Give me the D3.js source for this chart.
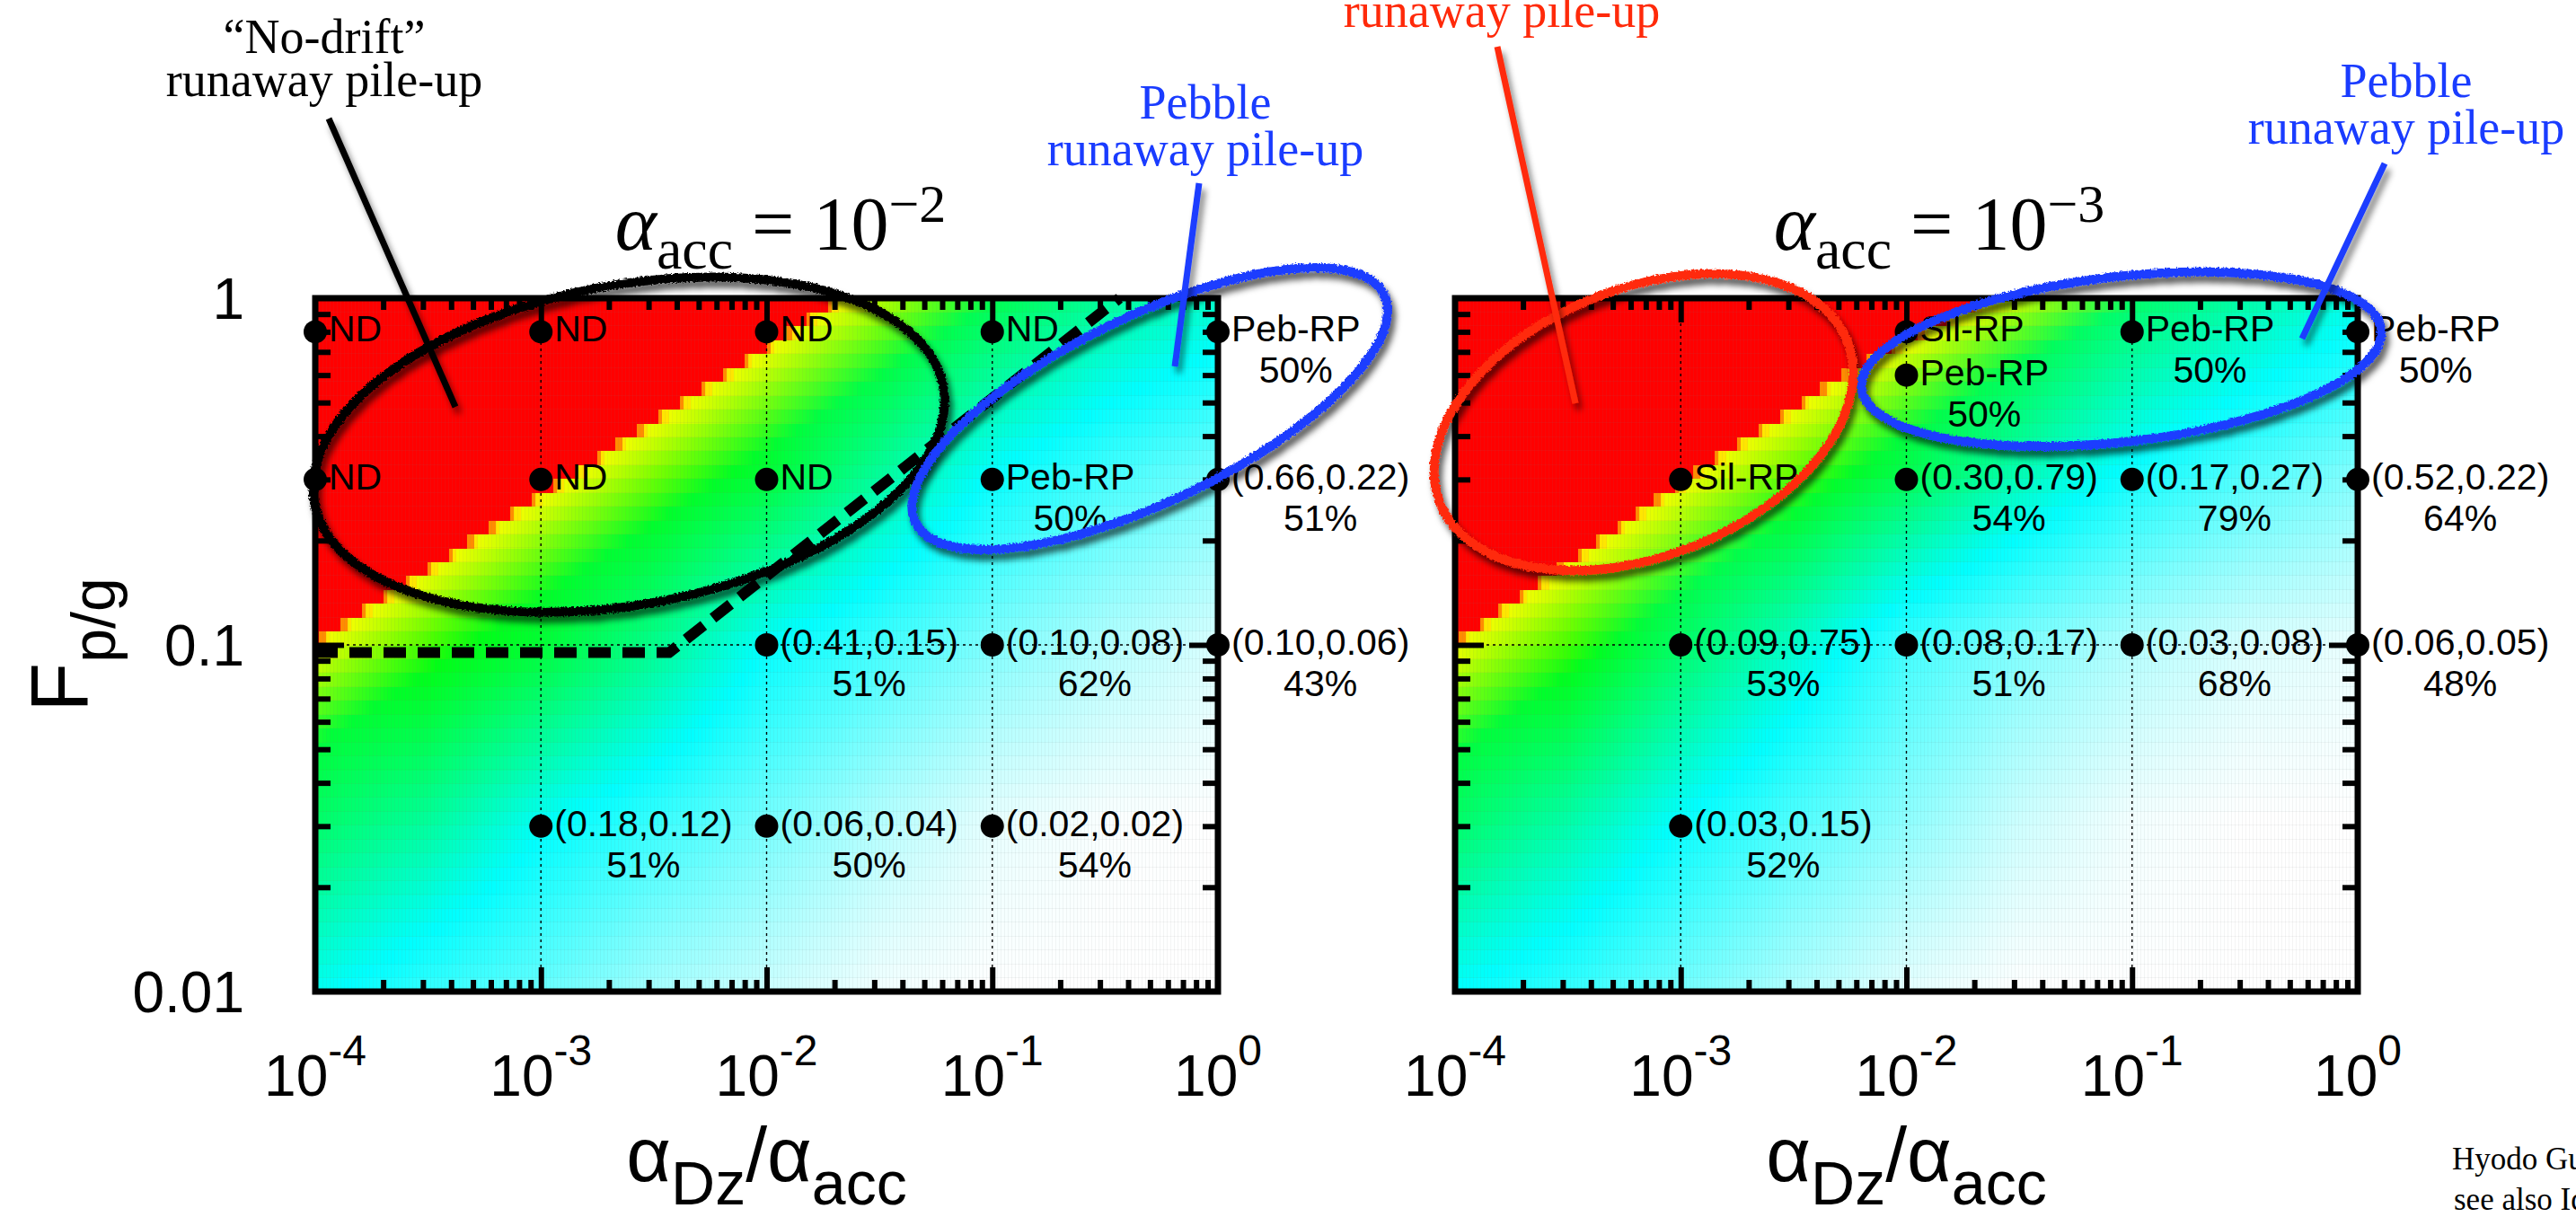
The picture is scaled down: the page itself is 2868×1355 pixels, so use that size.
<!DOCTYPE html>
<html>
<head>
<meta charset="utf-8">
<script src="https://cdn.jsdelivr.net/npm/d3@7"></script>
<style>
  html, body { margin: 0; padding: 0; background: #ffffff; }
  svg { display: block; }
</style>
</head>
<body>
<svg id="chart" width="2868" height="1355"></svg>
<script>
// ---------- axis ranges and ticks ----------
const xDomain = [1e-4, 1];
const yDomain = [0.01, 1];
const xMajorTicks = [1e-4, 1e-3, 1e-2, 1e-1, 1];
const xTickExponents = ["-4", "-3", "-2", "-1", "0"];
const yMajorTicks = [0.01, 0.1, 1];
const yTickLabels = ["0.01", "0.1", "1"];
const gridA = [1e-3, 1e-2, 1e-1];
const gridF = [0.1];
const panelExponents = ["\u22122", "\u22123"];

// ---------- alpha_acc = 1e-2 : simulation runs ----------
const leftA   = [1e-4, 1e-3, 1e-2, 1e-1, 1,   1e-4, 1e-3, 1e-2, 1e-1, 1,   1e-2, 1e-1, 1,   1e-3, 1e-2, 1e-1];
const leftF   = [0.8, 0.8, 0.8, 0.8, 0.8,     0.3, 0.3, 0.3, 0.3, 0.3,     0.1, 0.1, 0.1,   0.03, 0.03, 0.03];
const leftTag = ["ND", "ND", "ND", "ND", "Peb-RP",
                 "ND", "ND", "ND", "Peb-RP", "(0.66,0.22)",
                 "(0.41,0.15)", "(0.10,0.08)", "(0.10,0.06)",
                 "(0.18,0.12)", "(0.06,0.04)", "(0.02,0.02)"];
const leftPct = ["", "", "", "", "50%",
                 "", "", "", "50%", "51%",
                 "51%", "62%", "43%",
                 "51%", "50%", "54%"];

// ---------- alpha_acc = 1e-3 : simulation runs ----------
const rightA   = [1e-2, 1e-2, 1e-1, 1,   1e-3, 1e-2, 1e-1, 1,   1e-3, 1e-2, 1e-1, 1,   1e-3];
const rightF   = [0.8, 0.6, 0.8, 0.8,    0.3, 0.3, 0.3, 0.3,    0.1, 0.1, 0.1, 0.1,    0.03];
const rightTag = ["Sil-RP", "Peb-RP", "Peb-RP", "Peb-RP",
                  "Sil-RP", "(0.30,0.79)", "(0.17,0.27)", "(0.52,0.22)",
                  "(0.09,0.75)", "(0.08,0.17)", "(0.03,0.08)", "(0.06,0.05)",
                  "(0.03,0.15)"];
const rightPct = ["", "50%", "50%", "50%",
                  "", "54%", "79%", "64%",
                  "53%", "51%", "68%", "48%",
                  "52%"];

// ---------- background map: level 0 = white, 1 = cyan, 2 = green ----------
const levelLogA = [-4, -3.5, -3, -2.5, -2, -1.5, -1, -0.5, 0];
const levelLogF = [0, -0.5, -1, -1.5, -2];
const leftLevels = [
  [2.0, 2.0, 2.0, 2.0, 2.0, 2.0, 1.7, 1.4, 1.2],
  [2.0, 2.0, 2.0, 2.0, 1.8, 1.4, 1.0, 0.75, 0.55],
  [2.0, 2.0, 1.8, 1.45, 1.0, 0.75, 0.5, 0.3, 0.15],
  [1.6, 1.4, 1.05, 0.8, 0.55, 0.3, 0.1, 0.02, 0.0],
  [1.05, 0.8, 0.6, 0.35, 0.2, 0.05, 0.0, 0.0, 0.0]
];
const rightLevels = [
  [2.0, 2.0, 2.0, 2.0, 2.0, 1.9, 1.6, 1.35, 1.1],
  [2.0, 2.0, 2.0, 2.0, 1.7, 1.3, 0.95, 0.7, 0.5],
  [2.0, 2.0, 1.6, 1.2, 0.75, 0.5, 0.3, 0.15, 0.08],
  [1.6, 1.35, 1.0, 0.7, 0.45, 0.2, 0.05, 0.0, 0.0],
  [1.0, 0.8, 0.55, 0.3, 0.1, 0.0, 0.0, 0.0, 0.0]
];

// lower edge of the runaway (red) region
const leftEdgeA  = [1e-4, 0.0209];
const leftEdgeF  = [0.1023, 1];
const rightEdgeA = [1e-4, 1.035e-3, 5.8e-3, 2.2e-2];
const rightEdgeF = [0.1023, 0.302, 0.631, 1];

// dashed boundary (left panel)
const dashA = [1e-4, 3.7e-3, 0.366];
const dashF = [0.095, 0.095, 1];

// ---------- layout ----------
const panels = [
  { x0: 351, x1: 1356, A: leftA, F: leftF, tag: leftTag, pct: leftPct, levels: leftLevels, edgeA: leftEdgeA, edgeF: leftEdgeF, titleX: 869 },
  { x0: 1620, x1: 2625, A: rightA, F: rightF, tag: rightTag, pct: rightPct, levels: rightLevels, edgeA: rightEdgeA, edgeF: rightEdgeF, titleX: 2159 }
];
const Y0 = 332, Y1 = 1104;
const SANS = "'Liberation Sans', Arial, Helvetica, sans-serif";
const SERIF = "'Liberation Serif', 'Times New Roman', serif";

const svg = d3.select("#chart");
const defs = svg.append("defs");

// marker-stroke look for the hand-drawn annotations
const rough = defs.append("filter").attr("id", "rough")
  .attr("filterUnits", "userSpaceOnUse").attr("x", -200).attr("y", -200).attr("width", 3300).attr("height", 1800);
rough.append("feTurbulence").attr("type", "fractalNoise").attr("baseFrequency", 0.45).attr("numOctaves", 2).attr("seed", 3).attr("result", "noise");
rough.append("feDisplacementMap").attr("in", "SourceGraphic").attr("in2", "noise").attr("scale", 5)
  .attr("xChannelSelector", "R").attr("yChannelSelector", "G").attr("result", "disp");
rough.append("feGaussianBlur").attr("in", "disp").attr("stdDeviation", 3.5).attr("result", "blur");
rough.append("feOffset").attr("in", "blur").attr("dx", 4).attr("dy", 7).attr("result", "off");
rough.append("feColorMatrix").attr("in", "off").attr("type", "matrix")
  .attr("values", "0 0 0 0 0  0 0 0 0 0  0 0 0 0 0  0 0 0 0.65 0").attr("result", "shadow");
const rm = rough.append("feMerge");
rm.append("feMergeNode").attr("in", "shadow");
rm.append("feMergeNode").attr("in", "disp");

const shadow = defs.append("filter").attr("id", "shadow")
  .attr("filterUnits", "userSpaceOnUse").attr("x", -200).attr("y", -200).attr("width", 3300).attr("height", 1800);
shadow.append("feGaussianBlur").attr("in", "SourceAlpha").attr("stdDeviation", 3.5).attr("result", "b");
shadow.append("feOffset").attr("in", "b").attr("dx", 4).attr("dy", 7).attr("result", "o");
shadow.append("feColorMatrix").attr("in", "o").attr("type", "matrix")
  .attr("values", "0 0 0 0 0  0 0 0 0 0  0 0 0 0 0  0 0 0 0.5 0").attr("result", "s");
const sm = shadow.append("feMerge");
sm.append("feMergeNode").attr("in", "s");
sm.append("feMergeNode").attr("in", "SourceGraphic");

// ---------- helpers for the colour map ----------
const clamp = (v, lo, hi) => Math.max(lo, Math.min(hi, v));
function levelAt(M, lx, ly) {
  const c = clamp((lx - levelLogA[0]) / 0.5, 0, levelLogA.length - 1);
  const r = clamp((levelLogF[0] - ly) / 0.5, 0, levelLogF.length - 1);
  const c0 = Math.min(Math.floor(c), levelLogA.length - 2), r0 = Math.min(Math.floor(r), levelLogF.length - 2);
  const tc = c - c0, tr = r - r0;
  const top = M[r0][c0] * (1 - tc) + M[r0][c0 + 1] * tc;
  const bot = M[r0 + 1][c0] * (1 - tc) + M[r0 + 1][c0 + 1] * tc;
  return top * (1 - tr) + bot * tr;
}
function baseColor(L) {
  L = clamp(L, 0, 2);
  if (L <= 1) return d3.rgb(255 * (1 - L), 255, 255);
  return d3.rgb(0, 255, 255 * (2 - L));
}
function cellColor(lx, ly, edge, M) {
  const d = lx - edge;
  if (d < 0) return "#ff0000";
  if (d < 0.02) return "#ff8c00";
  if (d < 0.045) return "#ffe600";
  const w = clamp(1 - (d - 0.045) / 0.66, 0, 1);
  return d3.interpolateRgb(baseColor(levelAt(M, lx, ly)), "#eeff00")(w);
}

// multi-line label drawn as one text element; later lines are centred under the first
function twoLineText(parent, x, y, lines, lineGap, anchor, attrs) {
  const t = parent.append("text");
  Object.entries(attrs).forEach(([k, v]) => t.attr(k, v));
  const first = t.append("tspan").attr("x", x).attr("y", y).attr("text-anchor", anchor).text(lines[0]);
  if (lines.length > 1) {
    const w = first.node().getComputedTextLength();
    const cx = anchor === "middle" ? x : x + w / 2;
    lines.slice(1).forEach((s, k) => {
      t.append("tspan").attr("x", cx).attr("y", y + lineGap * (k + 1)).attr("text-anchor", "middle").text(s);
    });
  }
  return t;
}

const ROWS = 50, COLS = 250;
const dLy = 2 / ROWS, dLx = 4 / COLS;

panels.forEach((P, pi) => {
  const x = d3.scaleLog().domain(xDomain).range([P.x0, P.x1]);
  const y = d3.scaleLog().domain(yDomain).range([Y1, Y0]);
  const g = svg.append("g").attr("class", "panel" + pi);

  // --- colour map cells ---
  const eLX = P.edgeA.map(Math.log10), eLY = P.edgeF.map(Math.log10);
  const edgeAt = ly => {
    let k = 0;
    while (k < eLY.length - 2 && ly > eLY[k + 1]) k++;
    const t = (ly - eLY[k]) / (eLY[k + 1] - eLY[k]);
    return eLX[k] + t * (eLX[k + 1] - eLX[k]);
  };
  const cells = [];
  for (let i = 0; i < ROWS; i++) {
    const lyLo = -2 + i * dLy, lyc = lyLo + dLy / 2;
    const edge = edgeAt(lyc);
    for (let j = 0; j < COLS; j++) {
      const lxLo = -4 + j * dLx, lxc = lxLo + dLx / 2;
      cells.push({ lxLo, lyLo, c: cellColor(lxc, lyc, edge, P.levels) });
    }
  }
  g.append("g").attr("shape-rendering", "crispEdges")
    .selectAll("rect").data(cells).join("rect")
    .attr("x", d => x(10 ** d.lxLo))
    .attr("y", d => y(10 ** (d.lyLo + dLy)))
    .attr("width", d => x(10 ** (d.lxLo + dLx)) - x(10 ** d.lxLo) + 0.6)
    .attr("height", d => y(10 ** d.lyLo) - y(10 ** (d.lyLo + dLy)) + 0.6)
    .attr("fill", d => d.c);

  // faint mesh of the map
  const mesh = g.append("g").attr("stroke", "rgba(120,120,120,0.10)").attr("stroke-width", 0.8).attr("shape-rendering", "crispEdges");
  for (let i = 1; i < ROWS; i++) {
    const yy = y(10 ** (-2 + i * dLy));
    mesh.append("line").attr("x1", P.x0).attr("x2", P.x1).attr("y1", yy).attr("y2", yy);
  }
  for (let j = 1; j < COLS; j++) {
    const xx = x(10 ** (-4 + j * dLx));
    mesh.append("line").attr("x1", xx).attr("x2", xx).attr("y1", Y0).attr("y2", Y1);
  }

  // --- dotted grid ---
  const grid = g.append("g").attr("stroke", "#000").attr("stroke-width", 1.4).attr("stroke-dasharray", "3 4");
  gridA.forEach(v => grid.append("line").attr("x1", x(v)).attr("x2", x(v)).attr("y1", Y0).attr("y2", Y1));
  gridF.forEach(v => grid.append("line").attr("x1", P.x0).attr("x2", P.x1).attr("y1", y(v)).attr("y2", y(v)));

  // --- dashed boundary (left panel only) ---
  if (pi === 0) {
    const line = d3.line().x(d => x(d[0])).y(d => y(d[1]));
    g.append("path").datum(dashA.map((a, k) => [a, dashF[k]]))
      .attr("d", line).attr("fill", "none").attr("stroke", "#000")
      .attr("stroke-width", 12).attr("stroke-dasharray", "25 13");
  }

  // --- ticks (all pointing inward) ---
  const minorX = x.ticks().filter(v => !xMajorTicks.some(m => Math.abs(m - v) / m < 1e-6));
  const minorY = y.ticks().filter(v => !yMajorTicks.some(m => Math.abs(m - v) / m < 1e-6));
  const innerX = xMajorTicks.slice(1, -1), innerY = yMajorTicks.slice(1, -1);
  const axes = g.append("g");
  const addAxis = (axis, tr) => {
    const a = axes.append("g").attr("transform", tr).call(axis);
    a.select(".domain").remove();
    a.selectAll(".tick text").remove();
    a.selectAll(".tick line").attr("stroke", "#000").attr("stroke-width", 6);
  };
  addAxis(d3.axisBottom(x).tickValues(minorX).tickSize(-13).tickSizeOuter(0), `translate(0,${Y1})`);
  addAxis(d3.axisBottom(x).tickValues(innerX).tickSize(-27).tickSizeOuter(0), `translate(0,${Y1})`);
  addAxis(d3.axisTop(x).tickValues(minorX).tickSize(-13).tickSizeOuter(0), `translate(0,${Y0})`);
  addAxis(d3.axisTop(x).tickValues(innerX).tickSize(-27).tickSizeOuter(0), `translate(0,${Y0})`);
  addAxis(d3.axisLeft(y).tickValues(minorY).tickSize(-17).tickSizeOuter(0), `translate(${P.x0},0)`);
  addAxis(d3.axisLeft(y).tickValues(innerY).tickSize(-32).tickSizeOuter(0), `translate(${P.x0},0)`);
  addAxis(d3.axisRight(y).tickValues(minorY).tickSize(-17).tickSizeOuter(0), `translate(${P.x1},0)`);
  addAxis(d3.axisRight(y).tickValues(innerY).tickSize(-32).tickSizeOuter(0), `translate(${P.x1},0)`);

  // frame
  g.append("rect").attr("x", P.x0).attr("y", Y0).attr("width", P.x1 - P.x0).attr("height", Y1 - Y0)
    .attr("fill", "none").attr("stroke", "#000").attr("stroke-width", 7);

  // x tick labels 10^n
  xMajorTicks.forEach((v, k) => {
    const t = g.append("text").attr("x", x(v)).attr("y", 1220)
      .attr("text-anchor", "middle").attr("font-family", SANS).attr("fill", "#000");
    t.append("tspan").attr("font-size", 64).text("10");
    t.append("tspan").attr("font-size", 48).attr("dy", -34).text(xTickExponents[k]);
  });

  // y tick labels (left panel only)
  if (pi === 0) {
    yMajorTicks.forEach((v, k) => {
      g.append("text").attr("x", 272).attr("y", y(v) + 23)
        .attr("text-anchor", "end").attr("font-family", SANS).attr("font-size", 64)
        .attr("fill", "#000").text(yTickLabels[k]);
    });
    const yt = g.append("text").attr("transform", `translate(97,${(Y0 + Y1) / 2}) rotate(-90)`)
      .attr("text-anchor", "middle").attr("font-family", SANS).attr("fill", "#000");
    yt.append("tspan").attr("font-size", 90).text("F");
    yt.append("tspan").attr("font-size", 68).attr("dy", 31).text("p/g");
  }

  // x-axis title
  const xt = g.append("text").attr("x", (P.x0 + P.x1) / 2).attr("y", 1315)
    .attr("text-anchor", "middle").attr("font-family", SANS).attr("fill", "#000");
  xt.append("tspan").attr("font-size", 86).text("\u03b1");
  xt.append("tspan").attr("font-size", 68).attr("dy", 26).text("Dz");
  xt.append("tspan").attr("font-size", 86).attr("dy", -26).text("/\u03b1");
  xt.append("tspan").attr("font-size", 68).attr("dy", 26).text("acc");

  // panel title alpha_acc = 10^n
  const tt = g.append("text").attr("x", P.titleX).attr("y", 278)
    .attr("text-anchor", "middle").attr("font-family", SERIF).attr("fill", "#000");
  tt.append("tspan").attr("font-size", 88).attr("font-style", "italic").text("\u03b1");
  tt.append("tspan").attr("font-size", 64).attr("dy", 21).text("acc");
  tt.append("tspan").attr("font-size", 84).attr("dy", -21).text("\u00a0=\u00a010");
  tt.append("tspan").attr("font-size", 60).attr("dy", -31).text(panelExponents[pi]);

  // --- simulation points and their labels ---
  const pts = P.A.map((a, k) => ({ a, f: P.F[k], tag: P.tag[k], pct: P.pct[k] }));
  const pg = g.append("g");
  pg.selectAll("circle").data(pts).join("circle")
    .attr("cx", d => x(d.a)).attr("cy", d => y(d.f)).attr("r", 13).attr("fill", "#000");
  pts.forEach(d => {
    const lines = d.pct ? [d.tag, d.pct] : [d.tag];
    twoLineText(pg, x(d.a) + 15, y(d.f) + 11, lines, 46, "start",
      { "font-family": SANS, "font-size": 41, "fill": "#000" });
  });

  P.x = x; P.y = y;
});

// ---------- hand-drawn annotations ----------
const BLUE = "#1a3cff", RED = "#ff2a0a";
const ellipses = [
  { panel: 0, a: 2.45e-3, f: 0.378, rx: 356, ry: 178, rot: -10.5, color: "#000000" },
  { panel: 0, a: 0.499,   f: 0.48,  rx: 290, ry: 103, rot: -25.9, color: BLUE },
  { panel: 1, a: 6.85e-4, f: 0.439, rx: 244, ry: 149, rot: -21.7, color: RED },
  { panel: 1, a: 0.0897,  f: 0.667, rx: 291, ry: 92,  rot: -6.5,  color: BLUE }
];
const ann = svg.append("g").attr("class", "annotations");
ellipses.forEach(e => {
  const P = panels[e.panel];
  const cx = P.x(e.a), cy = P.y(e.f);
  ann.append("g").attr("filter", "url(#rough)")
    .append("ellipse").attr("cx", 0).attr("cy", 0).attr("rx", e.rx).attr("ry", e.ry)
    .attr("transform", `translate(${cx},${cy}) rotate(${e.rot})`)
    .attr("fill", "none").attr("stroke", e.color).attr("stroke-width", 10);
});

const pointers = [
  { x1: 366, y1: 132, x2: 507, y2: 453, color: "#000000" },
  { x1: 1335, y1: 204, x2: 1308, y2: 408, color: BLUE },
  { x1: 1667, y1: 52, x2: 1754, y2: 449, color: RED },
  { x1: 2655, y1: 182, x2: 2563, y2: 377, color: BLUE }
];
pointers.forEach(p => {
  ann.append("line").attr("x1", p.x1).attr("y1", p.y1).attr("x2", p.x2).attr("y2", p.y2)
    .attr("stroke", p.color).attr("stroke-width", 7).attr("filter", "url(#shadow)");
});

const notes = [
  { cx: 361, lines: ["\u201cNo-drift\u201d", "runaway pile-up"], base: 59, gap: 48, color: "#000000" },
  { cx: 1342, lines: ["Pebble", "runaway pile-up"], base: 132, gap: 52, color: BLUE },
  { cx: 1672, lines: ["runaway pile-up"], base: 30, gap: 0, color: RED },
  { cx: 2679, lines: ["Pebble", "runaway pile-up"], base: 108, gap: 52, color: BLUE }
];
notes.forEach(n => {
  twoLineText(ann, n.cx, n.base, n.lines, n.gap, "middle",
    { "font-family": SERIF, "font-size": 54, "fill": n.color });
});

// reference note
twoLineText(ann, 2730, 1302, ["Hyodo Guillot Charnoz (2021)"], 0, "start",
  { "font-family": SERIF, "font-size": 35, "fill": "#000" });
twoLineText(ann, 2732, 1347, ["see also Ida & Guillot (2016)"], 0, "start",
  { "font-family": SERIF, "font-size": 35, "fill": "#000" });
</script>
</body>
</html>
